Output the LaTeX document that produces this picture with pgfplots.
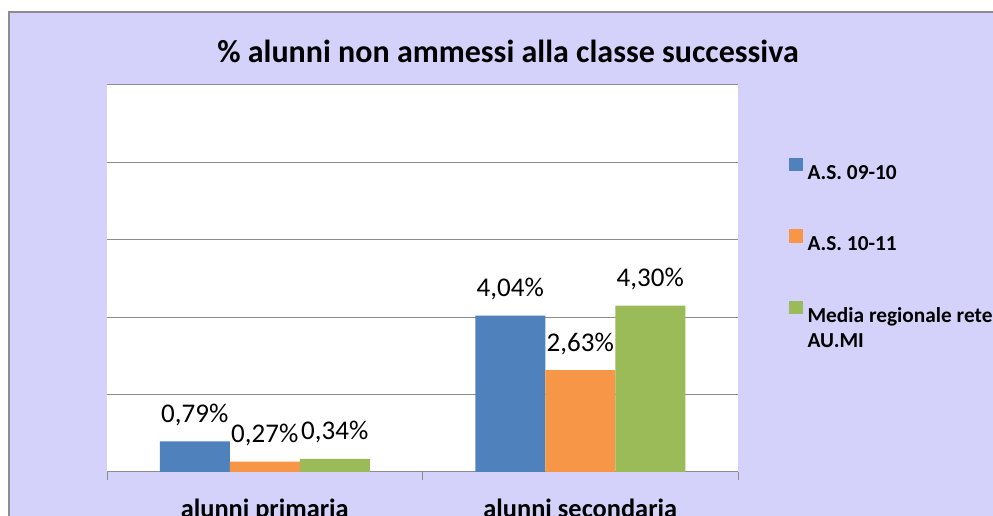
\documentclass[border=0pt]{standalone}
\usepackage{pgfplots}
\pgfplotsset{compat=1.18}
\usepackage{fontspec}
\setmainfont{Carlito}
\definecolor{lav}{RGB}{212,210,250}
\definecolor{sblue}{RGB}{79,129,189}
\definecolor{sorange}{RGB}{247,150,70}
\definecolor{sgreen}{RGB}{155,187,89}
\definecolor{gridc}{RGB}{140,140,140}
\begin{document}
\begin{tikzpicture}[x=0.75pt,y=0.75pt]
\useasboundingbox (0,0) rectangle (993,516);
\clip (0,0) rectangle (993,516);
\draw[gridc, fill=lav, line width=1.2pt] (9,-20) rectangle (1020,504);
\node[font=\fontsize{24pt}{28pt}\selectfont\bfseries, anchor=base, inner sep=0pt] at (508,453) {\% alunni non ammessi alla classe successiva};
\begin{axis}[at={(80.25pt,33pt)}, anchor=south west, scale only axis,
  width=473.25pt, height=290.25pt,
  ybar=0pt, bar width=52.5pt,
  xmin=-0.5, xmax=1.5, ymin=0, ymax=10,
  axis background/.style={fill=white},
  axis x line*=bottom, axis y line*=left,
  x axis line style={gridc, line width=0.75pt},
  y axis line style={draw=none},
  xtick={0,1}, xticklabels={alunni primaria, alunni secondaria},
  major x tick style={draw=none},
  minor xtick={-0.5,0.5,1.5}, minor x tick style={gridc, line width=0.75pt},
  minor tick length=6pt, tick align=outside,
  ytick={0,2,...,10}, yticklabels={}, major y tick style={draw=none},
  ymajorgrids, grid style={gridc, line width=0.75pt},
  xticklabel style={font=\fontsize{19.8pt}{22pt}\selectfont\bfseries, anchor=base, yshift=-30pt},
  nodes near coords={\pgfmathprintnumber[fixed,fixed zerofill,precision=2,use comma,assume math mode=true]{\pgfplotspointmeta}\%},
  every node near coord/.append style={font=\fontsize{20.25pt}{24pt}\selectfont, anchor=base, yshift=14.25pt, inner sep=0pt, text=black},
  sq/.style={legend image code/.code={\fill[##1] (0pt,0pt) rectangle (10pt,10pt);}},
  legend style={at={(1.0808,0.812)}, anchor=north west, draw=none, fill=none, inner sep=0pt,
    row sep=37.5pt, column sep=3.75pt, font=\fontsize{16pt}{19pt}\selectfont\bfseries,
    nodes={inner sep=0pt, text height=12pt, text depth=0pt}},
  legend cell align=left,
]
\addplot[fill=sblue, draw=none, sq] coordinates {(0,0.79) (1,4.04)};
\addlegendentry{A.S. 09-10}
\addplot[fill=sorange, draw=none, sq] coordinates {(0,0.27) (1,2.63)};
\addlegendentry{A.S. 10-11}
\addplot[fill=sgreen, draw=none, sq] coordinates {(0,0.34) (1,4.30)};
\addlegendentry{\smash{\rlap{\raisebox{-18.75pt}{AU.MI}}}Media regionale rete}
\end{axis}
\end{tikzpicture}
\end{document}
